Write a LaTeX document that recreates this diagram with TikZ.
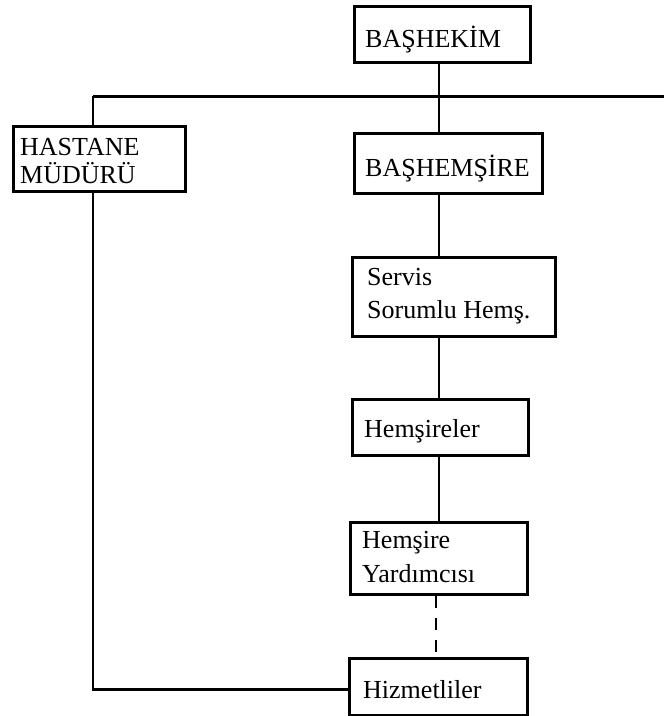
\documentclass[tikz,border=0pt]{standalone}
\usepackage{fontspec}
\setmainfont{Liberation Serif}
\begin{document}
\begin{tikzpicture}[x=1pt,y=-1pt,
  box/.style={draw, line width=3pt, inner sep=0pt, anchor=north west, rectangle},
  lbl/.style={inner sep=0pt, anchor=base west, align=left,
              font=\fontsize{26}{#1}\selectfont},
  lbl/.default=33,
  link/.style={line width=2.4pt},
  bar/.style={line width=3pt}]
\path[use as bounding box] (0,0) rectangle (664,716);

% boxes
\node[box, minimum width=176pt, minimum height=56pt] (bhk) at (353,5) {};
\node[box, minimum width=172pt, minimum height=65pt] (hm)  at (12,125) {};
\node[box, minimum width=188pt, minimum height=60pt] (bhs) at (353,132) {};
\node[box, minimum width=203pt, minimum height=79pt] (srv) at (351,256) {};
\node[box, minimum width=176pt, minimum height=56pt] (hms) at (351,398) {};
\node[box, minimum width=177pt, minimum height=72pt] (hy)  at (349,521) {};
\node[box, minimum width=178pt, minimum height=57pt] (hz)  at (348,657) {};

% labels (multi-line labels are anchored on their last baseline)
\node[lbl] (bhk-t) at (365,47) {BAŞHEKİM};
\node[lbl=28] (hm-t) at (20,183) {HASTANE\\MÜDÜRÜ};
\node[lbl] (bhs-t) at (365,176) {BAŞHEMŞİRE};
\node[lbl=33] (srv-t) at (367,318) {Servis\\Sorumlu Hemş.};
\node[lbl] (hms-t) at (364,437) {Hemşireler};
\node[lbl=34] (hy-t) at (362,582) {Hemşire\\Yardımcısı};
\node[lbl] (hz-t) at (363,698) {Hizmetliler};

% guide coordinates
\coordinate (trunk) at (439,0);
\coordinate (dashx) at (436,0);
\coordinate (barL) at (93,96);
\coordinate (barR) at (664,96);

% horizontal bar
\draw[bar] (barL) -- (barR);

% main vertical line
\draw[link] (bhk.south -| trunk) -- (bhs.north -| trunk);
\draw[link] (bhs.south -| trunk) -- (srv.north -| trunk);
\draw[link] (srv.south -| trunk) -- (hms.north -| trunk);
\draw[link] (hms.south -| trunk) -- (hy.north -| trunk);
\draw[link, dash pattern=on 12pt off 10pt] (hy.south -| dashx) -- (hz.north -| dashx);

% left branch
\draw[link] (barL) -- (hm.north -| barL);
\draw[link] (hm.south -| barL) |- ([yshift=-2.5pt]hz.west);
\end{tikzpicture}
\end{document}
